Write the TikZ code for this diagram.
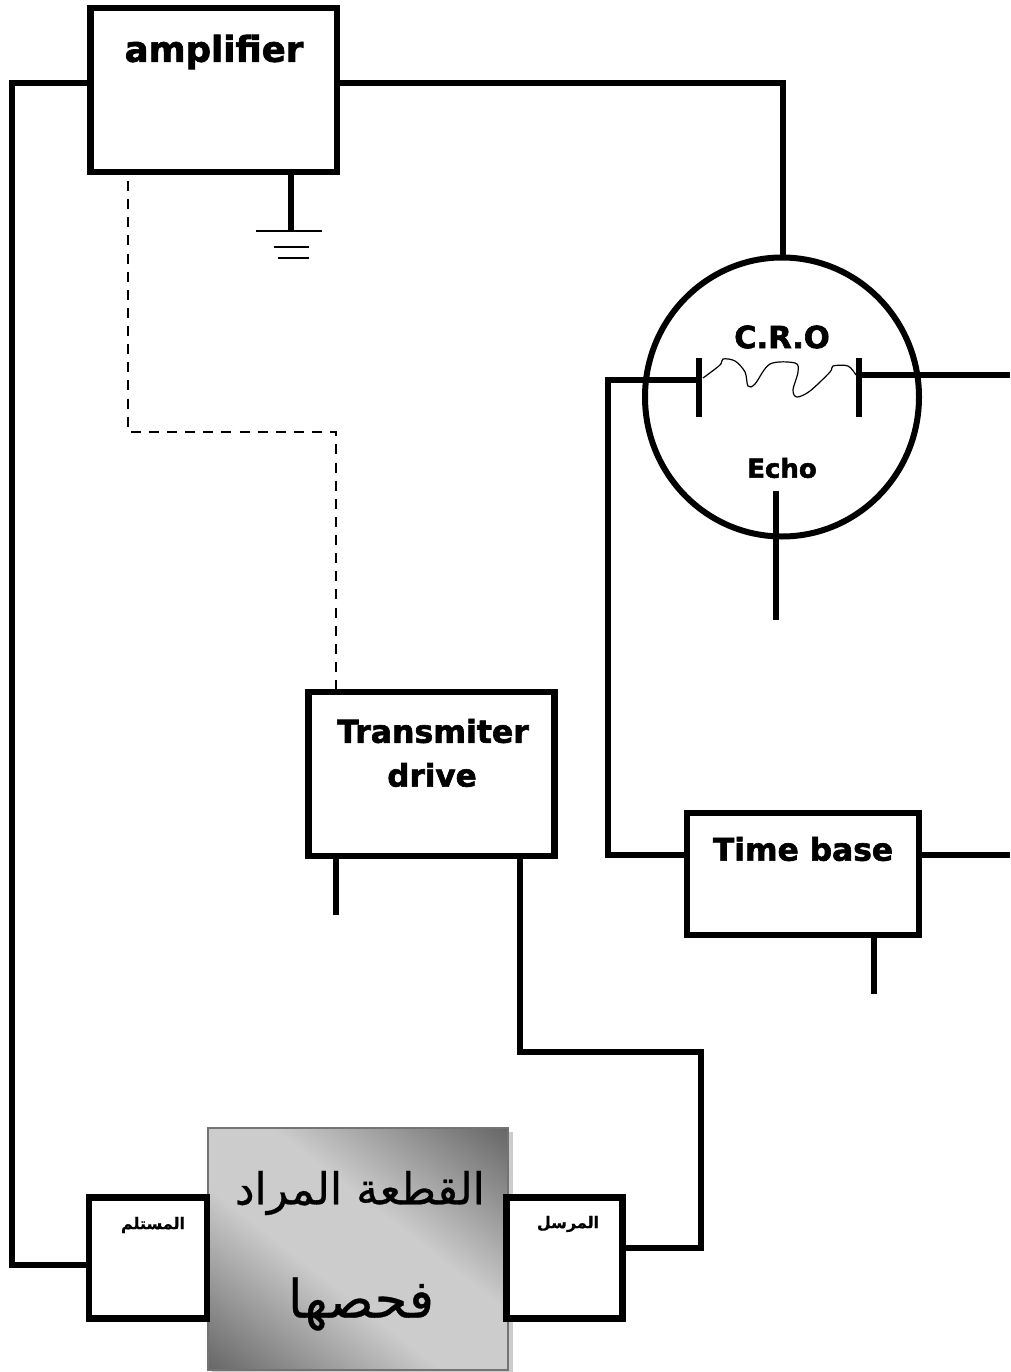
\documentclass[tikz,border=0pt]{standalone}
\usepackage{fontspec}
\usetikzlibrary{shapes.geometric}
\TeXXeTstate=1
\setmainfont{DejaVu Sans}
\newfontfamily\arabicfont[Script=Arabic,FakeBold=0.6]{DejaVu Sans}
\newfontfamily\arabicbold[Script=Arabic,FakeBold=0.5]{DejaVu Sans Bold}
\newfontfamily\labelfont[FakeBold=2]{DejaVu Sans Bold}
\newcommand{\fsz}[1]{\fontsize{#1pt}{#1pt}\selectfont}
\pgfdeclareverticalshading{cutshade}{100bp}{rgb(0bp)=(.38,.38,.38); rgb(15bp)=(.40,.40,.40); rgb(42bp)=(.80,.80,.80); rgb(58bp)=(.80,.80,.80); rgb(85bp)=(.40,.40,.40); rgb(100bp)=(.38,.38,.38)}
\tikzset{
  x=1pt,y=-1pt,
  box/.style={draw=black,fill=white,line width=6.5pt,rectangle,inner sep=0pt,outer sep=0pt},
  wire/.style={line width=6pt,draw=black},
  thinwire/.style={line width=2pt,draw=black},
  dashwire/.style={line width=2pt,draw=black,dash pattern=on 10pt off 8.13pt},
  lab/.style={font=\labelfont,inner sep=0pt,outer sep=0pt,text=black},
  ar/.style={font=\arabicfont,inner sep=0pt,outer sep=0pt,text=black},
  arb/.style={font=\arabicbold,inner sep=0pt,outer sep=0pt,text=black},
}
\begin{document}
\begin{tikzpicture}
\useasboundingbox (0,0) rectangle (1010,1372);
% boxes
\node[box,minimum width=246.5pt,minimum height=164pt] (amp) at (213.7,90) {};
\node[box,minimum width=246.4pt,minimum height=164pt] (tx) at (431.5,774) {};
\node[box,minimum width=232pt,minimum height=122pt] (tb) at (803,874) {};
% specimen
\fill[black!20] (212,1132) rectangle (512.5,1372);
\node[draw=black!55,line width=2pt,shading=cutshade,shading angle=-38,rectangle,inner sep=0pt,outer sep=0pt,minimum width=300pt,minimum height=242pt] (part) at (357.5,1249) {};
\node[box,minimum width=118pt,minimum height=121pt] (rx) at (148,1258) {};
\node[box,minimum width=116pt,minimum height=121pt] (sd) at (564.5,1258) {};
% CRO
\node[draw=black,line width=6pt,ellipse,inner sep=0pt,outer sep=0pt,minimum width=274pt,minimum height=279pt] (cro) at (782,397) {};
\coordinate (plL1) at (699,358); \coordinate (plL2) at (699,417);
\coordinate (plR1) at (859,358); \coordinate (plR2) at (859,417);
\draw[line width=6pt] (plL1) -- (plL2);
\draw[line width=6pt] (plR1) -- (plR2);
\coordinate (echoT) at (776,491); \coordinate (echoB) at (776,620);
\draw[line width=6pt] (echoT) -- (echoB);
\draw[line width=1.2pt] plot[smooth,tension=.55] coordinates {(703,378) (720,365) (723,359) (735,361) (745,372) (748,386) (755,384) (770,364) (795,363) (798,372) (793,390) (797,397) (810,391) (830,372) (833,366) (848,366) (856,375)};
% wires
\draw[wire] (amp.west |- 0,83) -- (12,83) -- (12,1265) -- (rx.west |- 0,1265);
\draw[wire] (amp.east |- 0,83) -- (783,83) -- (cro.north -| 783,0);
\coordinate (gnd) at (291,231);
\draw[wire] (amp.south -| 291,0) -- (gnd);
\coordinate (g1a) at (256,231.5); \coordinate (g1b) at (322,231.5);
\coordinate (g2a) at (274,247); \coordinate (g2b) at (309,247);
\coordinate (g3a) at (278,258); \coordinate (g3b) at (309,258);
\draw[thinwire] (g1a) -- (g1b);
\draw[thinwire] (g2a) -- (g2b);
\draw[thinwire] (g3a) -- (g3b);
\draw[dashwire] (128,181) -- (128,432) -- (336,432) -- (tx.north -| 336,0);
\coordinate (txstub) at (336,915);
\draw[wire] (tx.south -| 336,0) -- (txstub);
\draw[wire] (tx.south -| 520,0) -- (520,1052) -- (701,1052) -- (701,1248) -- (sd.east |- 0,1248);
\draw[wire] (plL1 |- 0,380) -- (608,380) -- (608,855) -- (tb.west |- 0,855);
\coordinate (rEnd1) at (1010,375);
\coordinate (rEnd2) at (1010,855);
\draw[wire] (plR1 |- rEnd1) -- (rEnd1);
\draw[wire] (tb.east |- rEnd2) -- (rEnd2);
\coordinate (tbstub) at (874,994);
\draw[wire] (tb.south -| tbstub) -- (tbstub);
% labels
\node[lab] (tamp) at (214,52) {\fsz{35.5}amplifier};
\node[lab] (tcro) at (782,337) {\fsz{30.5}C.R.O};
\node[lab] (techo) at (782,468) {\fsz{26}Echo};
\node[lab] (ttx1) at (433,731) {\fsz{31.5}Transmiter};
\node[lab] (ttx2) at (432,775) {\fsz{31}drive};
\node[lab] (ttb) at (803,849) {\fsz{31.3}Time base};
\node[ar] (tp1) at (360,1193) {\fsz{44}\beginR القطعة المراد\endR};
\node[ar] (tp2) at (361,1304) {\fsz{53}\beginR فحصها\endR};
\node[arb] (trx) at (153,1225) {\fsz{16}\beginR المستلم\endR};
\node[arb] (tsd) at (568,1224) {\fsz{16}\beginR المرسل\endR};
\end{tikzpicture}
\end{document}
